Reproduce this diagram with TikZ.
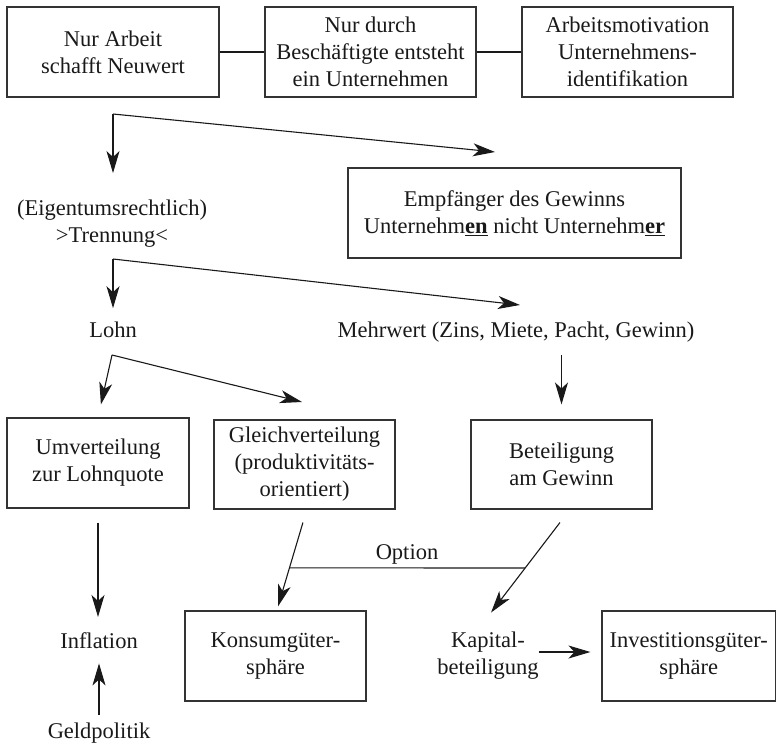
\documentclass[tikz,border=0pt]{standalone}
\usepackage{fontspec}
\setmainfont{Liberation Serif}
\usetikzlibrary{arrows.meta}
\begin{document}
\begin{tikzpicture}[x=1pt,y=-1pt,
  every node/.style={font=\fontsize{22.5}{27}\selectfont, inner sep=0pt, align=center, text=black!90},
  box/.style={draw=black!80, line width=1.1pt},
  arr/.style={-{Stealth[length=22pt,width=13pt,inset=6pt]}, line width=1.1pt, draw=black!90},
  ln/.style={line width=1.1pt, draw=black!90}]
\useasboundingbox (0,0) rectangle (776,745);

% top row
\node[box, minimum width=212pt, minimum height=90pt] (b1) at (113,52) {Nur Arbeit\\schafft Neuwert};
\node[box, minimum width=211pt, minimum height=90pt] (b2) at (370.5,52) {Nur durch\\Beschäftigte entsteht\\ein Unternehmen};
\node[box, minimum width=211pt, minimum height=90pt] (b3) at (627.5,52) {Arbeitsmotivation\\Unternehmens-\\identifikation};
\draw[ln] (b1.east) -- (b2.west);
\draw[ln] (b2.east) -- (b3.west);

% first fan
\coordinate (c1) at (113,114);
\coordinate (t1) at (495,152);
\node (eig) at (112,224) {(Eigentumsrechtlich)\\>Trennung<};
\node[box, minimum width=333pt, minimum height=90pt] (emp) at (514.5,213) {Empfänger des Gewinns\\Unternehm\underline{\textbf{en}} nicht Unternehm\underline{\textbf{er}}};
\draw[arr, shorten >=27pt] (c1) -- (c1 |- eig.north);
\draw[arr] (c1) -- (t1);

% second fan
\coordinate (c2) at (113,259);
\coordinate (t2) at (520,305);
\node[anchor=base] (lohn) at (113,337) {Lohn};
\node[anchor=base] (mw) at (516,337) {Mehrwert (Zins, Miete, Pacht, Gewinn)};
\draw[arr, shorten >=13pt] (c2) -- (c2 |- lohn.north);
\draw[arr] (c2) -- (t2);

% third fan
\coordinate (c3) at (112,355);
\coordinate (t3) at (302,402);
\node[box, minimum width=182pt, minimum height=90pt] (umv) at (98,463) {Umverteilung\\zur Lohnquote};
\node[box, minimum width=181pt, minimum height=89pt] (gl) at (304.5,464.5) {Gleichverteilung\\(produktivitäts-\\orientiert)};
\node[box, minimum width=181pt, minimum height=89pt] (bet) at (561.5,464.5) {Beteiligung\\am Gewinn};
\draw[arr, shorten >=13.3pt] (c3) -- (umv.north);
\draw[arr] (c3) -- (t3);
\draw[arr, shorten <=13pt, shorten >=15pt] (bet.north |- mw.south) -- (bet.north);

% bottom part
\node[anchor=base] (inf) at (99,648) {Inflation};
\node[anchor=base] (geld) at (99,738) {Geldpolitik};
\node[box, minimum width=181pt, minimum height=90pt] (kon) at (275.5,656) {Konsumgüter-\\sphäre};
\node (kap) at (488,656) {Kapital-\\beteiligung};
\node[box, minimum width=173.5pt, minimum height=90pt] (inv) at (688.75,656) {Investitionsgüter-\\sphäre};

\draw[arr, shorten <=14pt, shorten >=15pt] (umv.south) -- (umv.south |- inf.north);
\draw[arr, shorten <=7pt, shorten >=15pt] (geld.north) -- (geld.north |- inf.south);

\draw[arr, shorten <=13.5pt, shorten >=4.2pt] ([xshift=2.3pt]gl.south) -- coordinate[pos=0.578] (o1) ([xshift=1.3pt]kon.north);
\draw[arr, shorten <=16.3pt, shorten >=24.6pt] ([xshift=8.4pt]bet.south) -- coordinate[pos=0.477] (o2) ([xshift=-11.9pt]kap.north);
\draw[ln] (o1) -- (o2);
\node[anchor=base] (opt) at (407,559) {Option};

\draw[arr, shorten >=11pt] ([yshift=4pt]kap.east) -- ([yshift=4pt]kap.east -| inv.west);
\end{tikzpicture}
\end{document}
